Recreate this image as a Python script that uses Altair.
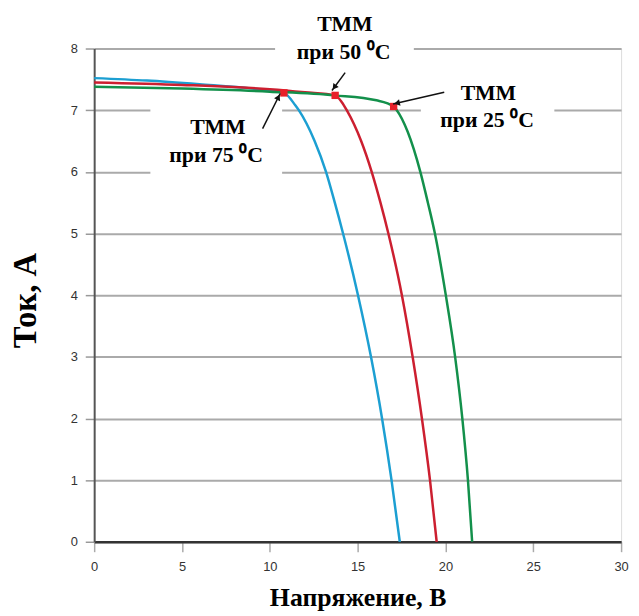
import math
import altair as alt
import pandas as pd

# ---- data ----
v75 = [0, 3, 6, 9, 10.8, 11.45, 11.65, 12.55, 13.2, 13.7, 14.17, 15.02, 15.76, 16.39, 16.93, 17.4]
i75 = [7.52, 7.48, 7.42, 7.35, 7.28, 7.08, 7.0, 6.5, 6.0, 5.5, 5.0, 4.0, 3.0, 2.0, 1.0, 0]

v50 = [0, 5, 10, 12, 13.72, 14.1, 14.38, 15.2, 15.8, 16.3, 16.75, 17.52, 18.13, 18.66, 19.12, 19.5]
i50 = [7.45, 7.41, 7.34, 7.29, 7.24, 7.13, 7.0, 6.5, 6.0, 5.5, 5.0, 4.0, 3.0, 2.0, 1.0, 0]

v25 = [0, 5, 10, 13.7, 16.07, 17.05, 17.23, 17.85, 18.57, 19.0, 19.4, 20.02, 20.55, 20.96, 21.28, 21.52]
i25 = [7.38, 7.35, 7.3, 7.24, 7.16, 7.06, 7.0, 6.65, 6.0, 5.5, 5.0, 4.0, 3.0, 2.0, 1.0, 0]

series = ["75", "50", "25"]
series_colors = ["#1c9fd2", "#cc1f30", "#13904b"]

mpp_v = [10.8, 13.72, 17.05]
mpp_i = [7.28, 7.24, 7.06]

label_text = ["ТММ", "при 75 ⁰С", "ТММ", "при 50 ⁰С", "ТММ", "при 25 ⁰С"]
label_v = [7.05, 6.94, 14.27, 14.2, 22.45, 22.37]
label_i = [6.73, 6.28, 8.39, 7.94, 7.28, 6.84]

arrow_v = [9.59, 14.29, 19.93]
arrow_i = [6.70, 7.61, 7.29]
arrow_v2 = [10.59, 13.54, 17.02]
arrow_i2 = [7.27, 7.32, 7.10]

mask_v = [3.2, 18.6, 10.3]
mask_v2 = [10.7, 26.2, 18.2]
mask_i = [5.85, 6.9, 7.88]
mask_i2 = [7.15, 7.1, 8.14]

x_ticks = [0, 5, 10, 15, 20, 25, 30]
y_ticks = [0, 1, 2, 3, 4, 5, 6, 7, 8]

W, H = 532, 498
px_v = W / 30.0
px_i = H / 8.0

# ---- tables ----
rows = []
for name, vs, is_ in zip(series, [v75, v50, v25], [i75, i50, i25]):
    for k, (v, i) in enumerate(zip(vs, is_)):
        rows.append({"s": name, "v": v, "i": i, "o": k})
curves = pd.DataFrame(rows)

mpp = pd.DataFrame({"v": mpp_v, "i": mpp_i})
labels = pd.DataFrame({"t": label_text, "v": label_v, "i": label_i})
masks = pd.DataFrame({"v": mask_v, "v2": mask_v2, "i": mask_i, "i2": mask_i2})

heads = []
for a, b, c, d in zip(arrow_v, arrow_i, arrow_v2, arrow_i2):
    dx = (c - a) * px_v
    dy = -(d - b) * px_i
    L = math.hypot(dx, dy)
    ang = math.degrees(math.atan2(dx, -dy)) % 360
    back = 4.0
    hv = c - (dx / L) * back / px_v
    hi = d + (dy / L) * back / px_i
    heads.append({"v": hv, "i": hi, "ang": ang})
arrows = pd.DataFrame({"v": arrow_v, "i": arrow_i, "v2": arrow_v2, "i2": arrow_i2})
heads = pd.DataFrame(heads)

xs = alt.Scale(domain=[0, 30], nice=False)
ys = alt.Scale(domain=[0, 8], nice=False)

x_axis = alt.Axis(values=x_ticks, grid=False, tickColor="#aaaaaa", tickSize=10, tickWidth=1.5,
                  domainColor="#333333", domainWidth=2.5, labelFont="Liberation Sans",
                  labelFontSize=13, labelColor="#333333", labelPadding=9, labelFlush=False,
                  title="Напряжение, В", titleFont="Liberation Serif", titleFontSize=26,
                  titleFontWeight="bold", titleColor="#000000", titleY=64,
                  titleBaseline="alphabetic")
y_axis = alt.Axis(values=y_ticks, grid=True, gridColor="#aaaaaa", gridWidth=2,
                  tickColor="#999999", tickSize=9, tickWidth=1.5,
                  domainColor="#555555", domainWidth=2, labelFont="Liberation Sans",
                  labelFontSize=13, labelColor="#333333", labelPadding=8, labelFlush=False,
                  title="Ток, А", titleFont="Liberation Serif", titleFontSize=33,
                  titleFontWeight="bold", titleColor="#000000", titleX=-52, titleY=254,
                  titleAngle=270, titleBaseline="bottom")

base_x = alt.X("v:Q", scale=xs, axis=x_axis)
base_y = alt.Y("i:Q", scale=ys, axis=y_axis)

mask_layer = alt.Chart(masks).mark_rect(color="white").encode(
    x=alt.X("v:Q", scale=xs, axis=x_axis), x2="v2:Q",
    y=alt.Y("i:Q", scale=ys, axis=y_axis), y2="i2:Q")

line_layer = alt.Chart(curves).mark_line(interpolate="monotone", strokeWidth=2.5).encode(
    x=base_x, y=base_y,
    color=alt.Color("s:N", scale=alt.Scale(domain=series, range=series_colors), legend=None),
    order="o:Q")

mpp_layer = alt.Chart(mpp).mark_square(color="#e8202a", size=55, opacity=1).encode(x=base_x, y=base_y)

arrow_layer = alt.Chart(arrows).mark_rule(color="#111111", strokeWidth=1.5).encode(
    x=base_x, y=base_y, x2="v2:Q", y2="i2:Q")

head_layer = alt.Chart(heads).mark_point(shape="triangle-up", filled=True, color="#111111",
                                         size=45, opacity=1).encode(
    x=base_x, y=base_y, angle=alt.Angle("ang:Q", scale=None))

label_layer = alt.Chart(labels).mark_text(font="Liberation Serif", fontSize=22, fontWeight="bold",
                                          color="#000000", align="center", baseline="middle").encode(
    x=base_x, y=base_y, text="t:N")

chart = alt.layer(mask_layer, line_layer, mpp_layer, arrow_layer, head_layer, label_layer).properties(
    width=W, height=H,
    autosize=alt.AutoSizeParams(type="none"),
    padding={"left": 87, "top": 38, "right": 10, "bottom": 70},
).configure_view(stroke="#222222", strokeWidth=2).configure(background="white")

chart.save("out.html", embed_options={"renderer": "svg", "actions": False})
